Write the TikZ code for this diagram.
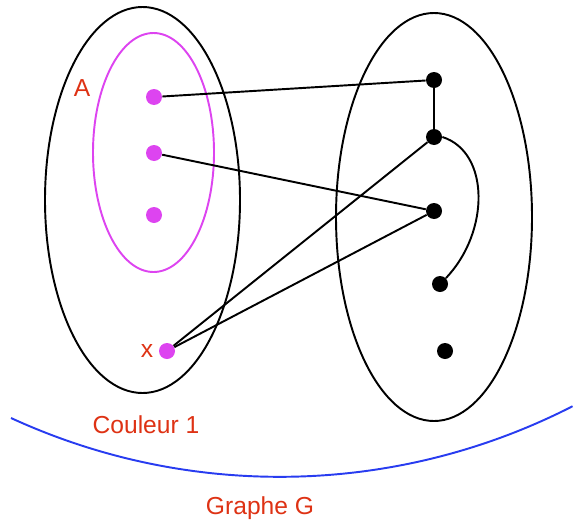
\documentclass[tikz,border=0pt]{standalone}
\usepackage{fontspec}
\setmainfont{Liberation Sans}
\definecolor{labred}{RGB}{222,50,20}
\definecolor{vmag}{RGB}{221,68,240}
\definecolor{arcblue}{RGB}{40,60,240}
\begin{document}
\begin{tikzpicture}[x=0.02cm,y=0.02cm,
  mdot/.style={circle,fill=vmag,inner sep=0pt,minimum size=0.32cm},
  bdot/.style={circle,fill=black,inner sep=0pt,minimum size=0.32cm},
  lbl/.style={color=labred,font=\fontsize{14}{16}\selectfont},
  edge/.style={line width=1.1pt,black}]
\useasboundingbox (0,0) rectangle (574,522);
% sets
\draw[line width=1.1pt] (142.5,322) ellipse (97.5 and 193);
\draw[line width=1.1pt,vmag] (153.5,369.5) ellipse (60.5 and 119.5);
\draw[line width=1.1pt] (434,305) ellipse (98 and 204);
% left vertices
\node[mdot] (m1) at (154,425) {};
\node[mdot] (m2) at (154,369) {};
\node[mdot] (m3) at (154,307) {};
\node[mdot] (mx) at (167,171) {};
% right vertices
\node[bdot] (b1) at (434,442) {};
\node[bdot] (b2) at (434,385) {};
\node[bdot] (b3) at (434,311) {};
\node[bdot] (b4) at (440,238) {};
\node[bdot] (b5) at (445,171) {};
% edges
\draw[edge] (m1) -- (b1);
\draw[edge] (b1) -- (b2);
\draw[edge] (m2) -- (b3);
\draw[edge] (mx) -- (b2);
\draw[edge] (mx) -- (b3);
\draw[edge] (b2.east) .. controls (490,370) and (490,290) .. (b4.north east);
% labels
\node[lbl] (labA) at (82,434) {A};
\node[lbl] (labx) at (147,171) {x};
\node[lbl] (col1) at (146,97) {Couleur 1};
\node[lbl] (graphG) at (260,14) {Graphe G};
% graph boundary
\draw[line width=1.1pt,arcblue] (11,104) arc[start angle=245.3,end angle=297.1,radius=643];
\end{tikzpicture}
\end{document}
